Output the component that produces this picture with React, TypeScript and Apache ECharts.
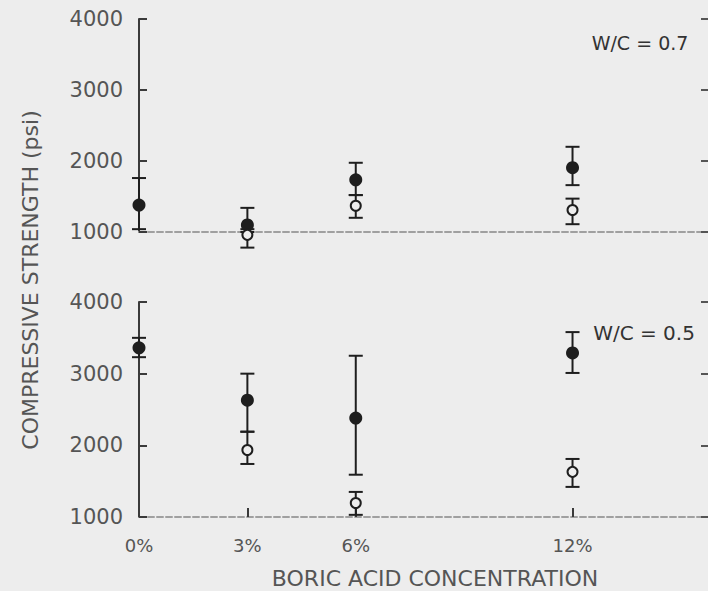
import React, { useEffect, useRef } from "react";
import * as echarts from "echarts";

// ---- data ----
const concentrations = [0, 3, 6, 12];
const xTickLabels = ["0%", "3%", "6%", "12%"];

// W/C = 0.7 (upper panel)
const wc07FilledMean = [1380, 1100, 1735, 1905];
const wc07FilledLow = [1040, 1000, 1520, 1660];
const wc07FilledHigh = [1760, 1340, 1975, 2200];
const wc07OpenMean: (number | null)[] = [null, 960, 1370, 1310];
const wc07OpenLow: (number | null)[] = [null, 780, 1200, 1110];
const wc07OpenHigh: (number | null)[] = [null, 1040, 1520, 1470];

// W/C = 0.5 (lower panel)
const wc05FilledMean = [3360, 2630, 2380, 3290];
const wc05FilledLow = [3230, 2190, 1590, 3010];
const wc05FilledHigh = [3500, 3000, 3250, 3580];
const wc05OpenMean: (number | null)[] = [null, 1935, 1195, 1630];
const wc05OpenLow: (number | null)[] = [null, 1740, 1030, 1420];
const wc05OpenHigh: (number | null)[] = [null, 2190, 1350, 1810];

const BG = "#ededed";
const INK = "#1e1e1e";
const TXT = "#555555";
const FONT = "DejaVu Sans";

function points(means: (number | null)[]) {
  const out: number[][] = [];
  concentrations.forEach((c, i) => {
    const m = means[i];
    if (m != null) out.push([c, m]);
  });
  return out;
}
function bars(lows: (number | null)[], highs: (number | null)[]) {
  const out: number[][] = [];
  concentrations.forEach((c, i) => {
    const l = lows[i];
    const h = highs[i];
    if (l != null && h != null) out.push([c, l, h]);
  });
  return out;
}

const renderErrorBar = (params: any, api: any) => {
  const x = api.value(0);
  const lo = api.coord([x, api.value(1)]);
  const hi = api.coord([x, api.value(2)]);
  const w = 7;
  const style = { stroke: INK, lineWidth: 2 };
  return {
    type: "group",
    children: [
      { type: "line", shape: { x1: lo[0], y1: lo[1], x2: hi[0], y2: hi[1] }, style },
      { type: "line", shape: { x1: lo[0] - w, y1: lo[1], x2: lo[0] + w, y2: lo[1] }, style },
      { type: "line", shape: { x1: hi[0] - w, y1: hi[1], x2: hi[0] + w, y2: hi[1] }, style },
    ],
  };
};

export default function App() {
  const ref = useRef<HTMLDivElement>(null);
  useEffect(() => {
    document.body.style.margin = "0";
    document.body.style.background = BG;
    if (!ref.current) return;
    const chart = echarts.init(ref.current, undefined, { renderer: "svg" });

    const xAxisBase = {
      type: "value",
      min: 0,
      max: 15.75,
      splitLine: { show: false },
      axisLine: { show: true, lineStyle: { color: "#a0a0a0", width: 2, type: [6, 3] } },
    };
    const yLeftBase = {
      type: "value",
      min: 1000,
      max: 4000,
      interval: 1000,
      position: "left",
      splitLine: { show: false },
      axisLine: { show: true, onZero: false, lineStyle: { color: "#3a3a3a", width: 2 } },
      axisTick: { show: true, inside: true, length: 8, lineStyle: { color: "#3a3a3a", width: 2 } },
      axisLabel: {
        show: true,
        margin: 16,
        color: TXT,
        fontSize: 21,
        fontFamily: FONT,
        formatter: (v: number) => String(v),
      },
    };
    const yRightBase = {
      type: "value",
      min: 1000,
      max: 4000,
      interval: 1000,
      position: "right",
      splitLine: { show: false },
      axisLine: { show: false, onZero: false },
      axisTick: { show: true, inside: true, length: 7, lineStyle: { color: "#555", width: 2 } },
      axisLabel: { show: false },
    };

    const filledStyle = { color: INK, opacity: 1 };
    const openStyle = { color: BG, borderColor: INK, borderWidth: 2, opacity: 1 };

    chart.setOption({
      animation: false,
      backgroundColor: BG,
      grid: [
        { left: 139, right: -2, top: 19, height: 213 },
        { left: 139, right: -2, top: 302, height: 215 },
      ],
      xAxis: [
        {
          ...xAxisBase,
          gridIndex: 0,
          axisTick: { show: false },
          axisLabel: { show: false },
        },
        {
          ...xAxisBase,
          gridIndex: 1,
          axisTick: {
            show: true,
            inside: true,
            length: 9,
            customValues: concentrations,
            lineStyle: { color: "#3a3a3a", width: 2 },
          },
          axisLabel: {
            show: true,
            customValues: concentrations,
            margin: 19,
            color: TXT,
            fontSize: 18,
            fontFamily: FONT,
            formatter: (v: number) => {
              const i = concentrations.indexOf(v);
              return i >= 0 ? xTickLabels[i] : "";
            },
          },
        },
      ],
      yAxis: [
        { ...yLeftBase, gridIndex: 0 },
        { ...yRightBase, gridIndex: 0 },
        { ...yLeftBase, gridIndex: 1 },
        { ...yRightBase, gridIndex: 1 },
      ],
      series: [
        {
          type: "custom",
          xAxisIndex: 0,
          yAxisIndex: 0,
          renderItem: renderErrorBar,
          encode: { x: 0, y: [1, 2] },
          data: bars(wc07FilledLow, wc07FilledHigh),
          z: 2,
        },
        {
          type: "custom",
          xAxisIndex: 0,
          yAxisIndex: 0,
          renderItem: renderErrorBar,
          encode: { x: 0, y: [1, 2] },
          data: bars(wc07OpenLow, wc07OpenHigh),
          z: 2,
        },
        {
          type: "custom",
          xAxisIndex: 1,
          yAxisIndex: 2,
          renderItem: renderErrorBar,
          encode: { x: 0, y: [1, 2] },
          data: bars(wc05FilledLow, wc05FilledHigh),
          z: 2,
        },
        {
          type: "custom",
          xAxisIndex: 1,
          yAxisIndex: 2,
          renderItem: renderErrorBar,
          encode: { x: 0, y: [1, 2] },
          data: bars(wc05OpenLow, wc05OpenHigh),
          z: 2,
        },
        {
          type: "scatter",
          xAxisIndex: 0,
          yAxisIndex: 0,
          clip: false,
          symbol: "circle",
          symbolSize: 13,
          itemStyle: filledStyle,
          data: points(wc07FilledMean),
          z: 3,
        },
        {
          type: "scatter",
          xAxisIndex: 0,
          yAxisIndex: 0,
          clip: false,
          symbol: "circle",
          symbolSize: 10,
          itemStyle: openStyle,
          data: points(wc07OpenMean),
          z: 3,
        },
        {
          type: "scatter",
          xAxisIndex: 1,
          yAxisIndex: 2,
          clip: false,
          symbol: "circle",
          symbolSize: 13,
          itemStyle: filledStyle,
          data: points(wc05FilledMean),
          z: 3,
        },
        {
          type: "scatter",
          xAxisIndex: 1,
          yAxisIndex: 2,
          clip: false,
          symbol: "circle",
          symbolSize: 10,
          itemStyle: openStyle,
          data: points(wc05OpenMean),
          z: 3,
        },
      ],
      graphic: [
        {
          type: "text",
          x: 30,
          y: 280,
          rotation: Math.PI / 2,
          style: {
            text: "COMPRESSIVE STRENGTH (psi)",
            fill: TXT,
            font: `22px ${FONT}`,
            align: "center",
            verticalAlign: "middle",
          },
        },
        {
          type: "text",
          x: 435,
          y: 578,
          style: {
            text: "BORIC ACID CONCENTRATION",
            fill: TXT,
            font: `22px ${FONT}`,
            align: "center",
            verticalAlign: "middle",
          },
        },
        {
          type: "text",
          x: 640,
          y: 43,
          style: {
            text: "W/C = 0.7",
            fill: "#333333",
            font: `19px ${FONT}`,
            align: "center",
            verticalAlign: "middle",
          },
        },
        {
          type: "text",
          x: 644,
          y: 333,
          style: {
            text: "W/C = 0.5",
            fill: "#333333",
            font: `20px ${FONT}`,
            align: "center",
            verticalAlign: "middle",
          },
        },
      ],
    });
    return () => chart.dispose();
  }, []);
  return (
    <div
      ref={ref}
      style={{ position: "absolute", left: 0, top: 0, width: 708, height: 591, background: BG }}
    />
  );
}
